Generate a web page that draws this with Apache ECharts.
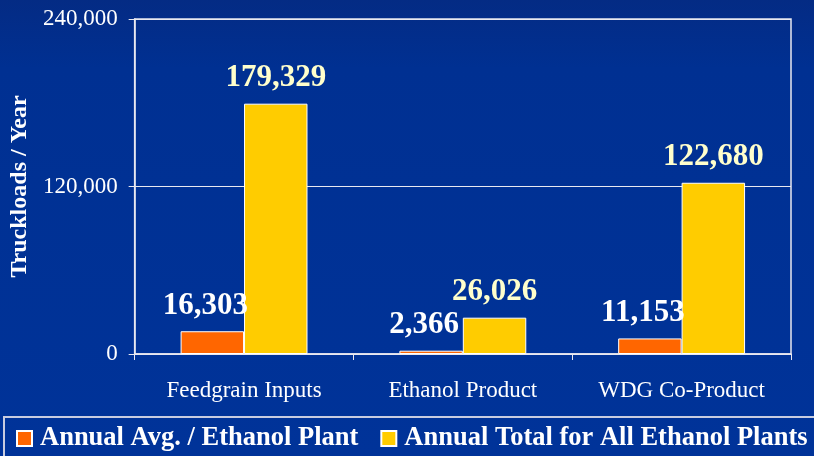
<!DOCTYPE html>
<html>
<head>
<meta charset="utf-8">
<script src="https://cdn.jsdelivr.net/npm/echarts@6/dist/echarts.min.js"></script>
<style>
  html, body { margin: 0; padding: 0; background: #003399; }
  #container { width: 814px; height: 456px; }
</style>
</head>
<body>
<div id="container"></div>
<script>
var categories = ['Feedgrain Inputs', 'Ethanol Product', 'WDG Co-Product'];
var avgPerPlant = [16303, 2366, 11153];
var totalAllPlants = [179329, 26026, 122680];
var seriesNames = ['Annual Avg. / Ethanol Plant', 'Annual Total for All Ethanol Plants'];

var dom = document.getElementById('container');
var myChart = echarts.init(dom);
var serif = '"Liberation Serif", "Times New Roman", serif';

var option = {
    backgroundColor: {
        type: 'linear', x: 0, y: 0, x2: 0, y2: 1,
        colorStops: [
            { offset: 0, color: '#042b84' },
            { offset: 0.15, color: '#003092' },
            { offset: 1, color: '#003399' }
        ]
    },
    textStyle: { fontFamily: serif },
    grid: {
        left: 132,
        right: 23,
        top: 19,
        bottom: 102,
        show: true,
        borderColor: '#e8e8f0',
        borderWidth: 1.5,
        containLabel: false
    },
    legend: {
        data: seriesNames,
        left: 4,
        top: 417,
        width: 860,
        padding: [8, 20, 10, 12],
        itemGap: 22,
        itemWidth: 15,
        itemHeight: 15,
        icon: 'rect',
        borderColor: '#c8cce0',
        borderWidth: 2,
        textStyle: {
            color: '#ffffff',
            fontSize: 26.5,
            fontWeight: 'bold',
            fontFamily: serif,
            padding: [0, 0, 0, 3]
        }
    },
    xAxis: {
        type: 'category',
        data: categories,
        axisLine: { lineStyle: { color: '#e8e8f0', width: 1.5 } },
        axisTick: { show: true, length: 6, lineStyle: { color: '#e8e8f0' } },
        axisLabel: { color: '#ffffff', fontSize: 23, margin: 25, fontFamily: serif }
    },
    yAxis: {
        type: 'value',
        min: 0,
        max: 240000,
        interval: 120000,
        name: 'Truckloads / Year',
        nameLocation: 'middle',
        nameGap: 102,
        nameTextStyle: { color: '#ffffff', fontSize: 24, fontWeight: 'bold', fontFamily: serif },
        axisLine: { show: true, lineStyle: { color: '#e8e8f0', width: 1.5 } },
        axisTick: { show: true, length: 6, lineStyle: { color: '#e8e8f0' } },
        splitLine: { lineStyle: { color: '#e8e8f0', width: 1.2 } },
        axisLabel: {
            color: '#ffffff',
            fontSize: 23,
            margin: 17,
            fontFamily: serif,
            formatter: function (v) { return v.toLocaleString('en-US'); }
        }
    },
    series: [{
        name: seriesNames[0],
        type: 'bar',
        data: avgPerPlant,
        barWidth: '29%',
        barGap: '0%',
        itemStyle: { color: '#ff6600', borderColor: '#ffffff', borderWidth: 1 },
        label: {
            show: true,
            position: 'top',
            distance: 10,
            offset: [-7, 0],
            color: '#ffffff',
            fontSize: 31,
            fontWeight: 'bold',
            fontFamily: serif,
            formatter: function (p) { return p.value.toLocaleString('en-US'); }
        }
    }, {
        name: seriesNames[1],
        type: 'bar',
        data: totalAllPlants,
        barWidth: '29%',
        itemStyle: { color: '#ffcc00', borderColor: '#ffffff', borderWidth: 1 },
        label: {
            show: true,
            position: 'top',
            distance: 10,
            color: '#ffffcc',
            fontSize: 31,
            fontWeight: 'bold',
            fontFamily: serif,
            formatter: function (p) { return p.value.toLocaleString('en-US'); }
        }
    }]
};
myChart.setOption(option);
</script>
</body>
</html>
